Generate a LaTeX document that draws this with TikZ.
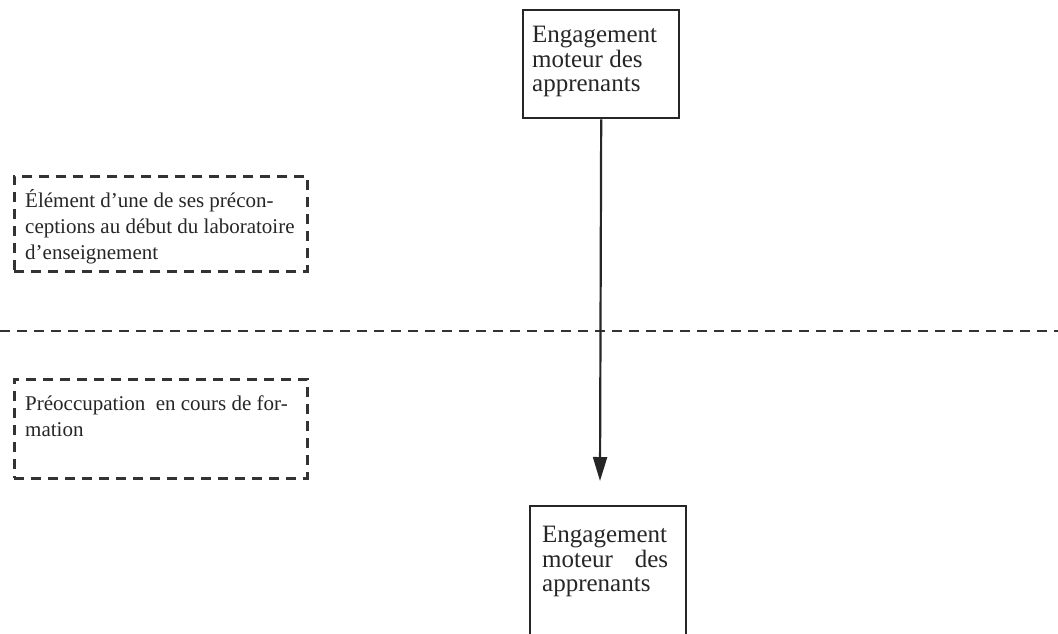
\documentclass[tikz,border=0pt]{standalone}
\usepackage{fontspec}
\setmainfont{Liberation Serif}
\usetikzlibrary{arrows.meta}
\begin{document}
\begin{tikzpicture}[x=1pt,y=1pt,
  solidbox/.style={draw=black!85, line width=2.4pt, inner sep=0pt, anchor=north west},
  dashbox/.style={draw=black!80, line width=2.8pt, dash pattern=on 10pt off 7pt, inner sep=0pt, anchor=north west},
  bigtxt/.style={anchor=north west, align=left, inner sep=0pt, font=\fontsize{25}{24.5}\selectfont, text=black!85},
  smalltxt/.style={anchor=north west, align=left, inner sep=0pt, font=\fontsize{21}{26}\selectfont, text=black!85},
  divider/.style={draw=black!80, line width=2.8pt, dash pattern=on 10pt off 7pt},
  flow/.style={draw=black!85, line width=2.2pt, -{Triangle[width=14pt,length=24pt]}}]
\useasboundingbox (0,0) rectangle (1058,-633);

% upper activity box
\node[solidbox, minimum width=156pt, minimum height=108pt] (top) at (522,-9) {};
\node[bigtxt] (toptxt) at (532,-26) {Engagement\\moteur des\\apprenants};

% lower activity box (runs past the bottom edge)
\node[solidbox, minimum width=156pt, minimum height=160pt] (bot) at (529,-505) {};
\node[bigtxt, text width=126pt] (bottxt) at (542,-526) {Engagement\\moteur \hfill des\\apprenants};

% dashed legend boxes
\node[dashbox, minimum width=293pt, minimum height=95pt] (pre) at (13,-175) {};
\node[smalltxt] (pretxt) at (25,-189) {Élément d'une de ses précon-\\ceptions au début du laboratoire\\d'enseignement};

\node[dashbox, minimum width=293pt, minimum height=99pt] (form) at (13,-378) {};
\node[smalltxt] (formtxt) at (25,-396) {Préoccupation\ \ en cours de for-\\mation};

% horizontal divider
\coordinate (divL) at (0,-331);
\coordinate (divR) at (1058,-331);
\draw[divider] (divL) -- (divR);

% flow arrow between the two boxes
\coordinate (tip) at (600,-481);
\draw[flow] (top.south) -- (tip);
\end{tikzpicture}
\end{document}
